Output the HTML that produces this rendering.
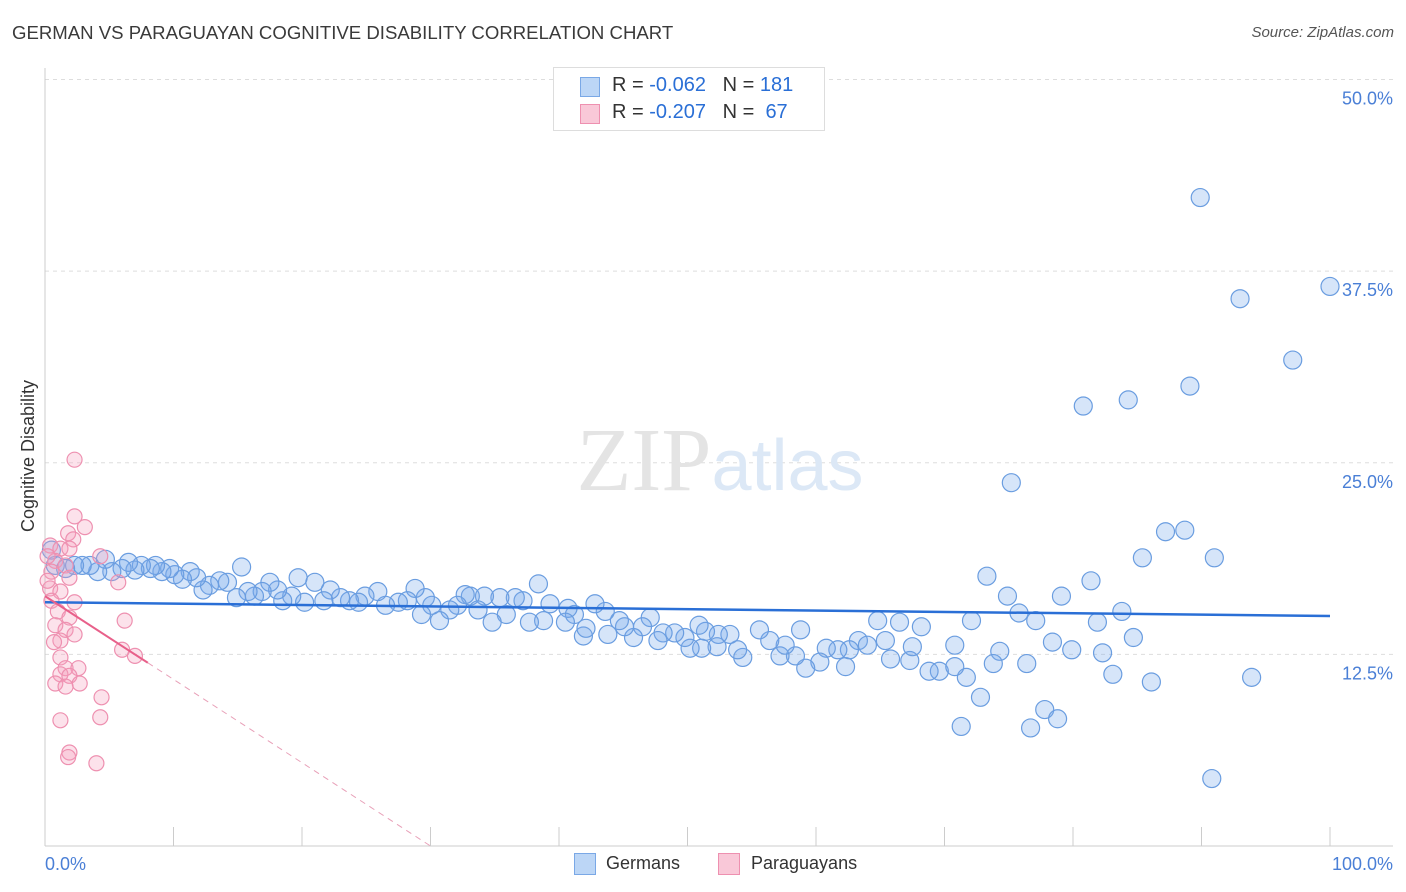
<!DOCTYPE html>
<html><head><meta charset="utf-8">
<style>
body{margin:0;background:#fff;font-family:"Liberation Sans",sans-serif;}
#wrap{position:relative;width:1406px;height:892px;overflow:hidden;}
.t{position:absolute;white-space:nowrap;}
</style></head>
<body>
<div id="wrap">
<div class="t" style="left:12px;top:22px;font-size:18.6px;color:#3a3a3a;">GERMAN VS PARAGUAYAN COGNITIVE DISABILITY CORRELATION CHART</div>
<div class="t" style="right:12px;top:24px;font-size:15px;color:#555;font-style:italic;">Source: ZipAtlas.com</div>
<svg id="svg" width="1406" height="892" style="position:absolute;left:0;top:0"></svg>
</div>
<script>
const yTicks=[12.5,25,37.5,50];
const yTickLabels=["12.5%","25.0%","37.5%","50.0%"];
const xLabels=["0.0%","100.0%"];
const germanX=[89.9,93.0,100,97.1,89.1,84.3,80.8,75.2,87.2,88.7,85.4,91.0,73.3,81.4,74.9,79.1,75.8,83.8,72.1,77.1,81.9,84.7,78.4,74.3,79.9,82.3,76.4,73.8,83.1,86.1,93.9,71.7,72.8,77.8,78.8,71.3,76.7,90.8,69.6,68.8,70.8,67.3,65.8,70.8,68.2,66.5,64.8,67.5,63.3,65.4,64.0,62.3,62.6,61.7,60.8,60.3,59.2,58.4,57.2,58.8,57.6,56.4,55.6,54.3,53.9,53.3,52.4,51.4,52.3,51.1,50.2,50.9,49.8,49.0,48.1,47.1,47.7,46.5,45.8,45.1,44.7,43.8,43.6,42.8,41.9,42.1,41.2,40.7,40.5,39.3,38.8,38.4,37.7,37.2,36.6,35.9,35.4,34.8,34.2,33.1,33.7,32.7,32.1,31.5,30.7,30.1,29.3,29.6,28.8,28.2,27.5,26.5,25.9,24.9,24.4,23.7,23.0,22.2,21.7,21.0,20.2,19.7,19.2,18.5,18.1,17.5,16.9,16.3,15.8,14.9,14.2,13.6,12.8,12.3,11.8,11.3,10.7,10.1,9.7,9.1,8.6,8.2,7.5,7.0,6.5,6.0,5.2,4.7,4.1,3.5,2.9,2.3,1.6,0.8,0.5,15.3];
const germanY=[42.3,35.7,36.5,31.7,30.0,29.1,28.7,23.7,20.5,20.6,18.8,18.8,17.6,17.3,16.3,16.3,15.2,15.3,14.7,14.7,14.6,13.6,13.3,12.7,12.8,12.6,11.9,11.9,11.2,10.7,11.0,11.0,9.7,8.9,8.3,7.8,7.7,4.4,11.4,11.4,11.7,12.1,12.2,13.1,14.3,14.6,14.7,13.0,13.4,13.4,13.1,11.7,12.8,12.8,12.9,12.0,11.6,12.4,12.4,14.1,13.1,13.4,14.1,12.3,12.8,13.8,13.8,14.0,13.0,12.9,12.9,14.4,13.6,13.9,13.9,14.9,13.4,14.3,13.6,14.3,14.7,13.8,15.3,15.8,13.7,14.2,15.1,15.5,14.6,15.8,14.7,17.1,14.6,16.0,16.2,15.1,16.2,14.6,16.3,16.3,15.4,16.4,15.7,15.4,14.7,15.7,15.1,16.2,16.8,16.0,15.9,15.7,16.6,16.3,15.9,16.0,16.2,16.7,16.0,17.2,15.9,17.5,16.3,16.0,16.7,17.2,16.6,16.3,16.6,16.2,17.2,17.3,17.0,16.7,17.5,17.9,17.4,17.7,18.1,17.9,18.3,18.1,18.3,18.0,18.5,18.1,17.9,18.7,17.9,18.3,18.3,18.3,18.1,18.3,19.3,18.2];
const paraX=[2.3,2.3,3.1,1.8,2.2,0.4,1.2,1.9,4.3,0.8,1.6,0.5,1.9,5.7,0.4,1.2,0.5,2.3,1.0,1.9,6.2,0.8,1.6,2.3,1.2,0.7,6.0,7.0,1.2,1.6,2.6,1.2,1.9,0.8,2.7,1.6,4.4,4.3,1.2,1.9,1.8,4.0,0.2,0.2];
const paraY=[25.2,21.5,20.8,20.4,20.0,19.6,19.4,19.4,18.9,18.6,18.3,17.9,17.5,17.2,16.8,16.6,16.0,15.9,15.3,14.9,14.7,14.4,14.1,13.8,13.4,13.3,12.8,12.4,12.3,11.6,11.6,11.2,11.1,10.6,10.6,10.4,9.7,8.4,8.2,6.1,5.8,5.4,18.9,17.3];
const germanTrend=[15.9,15.0];
const paraTrend=[16.3,0];

const X0=45,X1=1330,Y0=846,PPU=15.33;
const sx=v=>X0+(X1-X0)*v/100;
const sy=v=>Y0-v*PPU;
const svg=document.getElementById('svg');
const NS='http://www.w3.org/2000/svg';
function mk(tag,attrs,parent){const e=document.createElementNS(NS,tag);for(const k in attrs)e.setAttribute(k,attrs[k]);(parent||svg).appendChild(e);return e;}

yTicks.forEach((v,i)=>{
  const l=mk('line',{x1:45,x2:1393,y1:sy(v),y2:sy(v),stroke:'#ddd','stroke-dasharray':'4,4'});
  
  
  const t=mk('text',{x:1393,y:sy(v)+25,'text-anchor':'end','font-size':'18',fill:'#4a7fd6','font-family':'Liberation Sans'});
  t.textContent=yTickLabels[i];
  
  
});
const ax=mk('line',{x1:45,x2:45,y1:68,y2:846,stroke:'#ccc'});


const bx=mk('line',{x1:45,x2:1393,y1:846,y2:846,stroke:'#ccc'});


for(let i=0;i<=10;i++){
  const tk=mk('line',{x1:sx(i*10),x2:sx(i*10),y1:827,y2:846,stroke:'#ccc'});
  
  
}
[[0,'start',45],[1,'end',1393]].forEach(([i,a,x])=>{
  const t=mk('text',{x:x,y:870,'text-anchor':a,'font-size':'18',fill:'#4a7fd6','font-family':'Liberation Sans'});
  t.textContent=xLabels[i];
  
  
});
const yt=mk('text',{x:34,y:456,'text-anchor':'middle','font-size':'18',fill:'#333',transform:'rotate(-90 34 456)','font-family':'Liberation Sans'});
yt.textContent='Cognitive Disability';


const wm=mk('text',{x:720,y:490,'text-anchor':'middle','font-size':'90',fill:'#e4e4e4','font-family':'Liberation Serif'});
wm.innerHTML='ZIP<tspan fill="#dce8f6" font-family="Liberation Sans" font-size="72">atlas</tspan>';



germanX.forEach((x,i)=>{
  const c=mk('circle',{cx:sx(x),cy:sy(germanY[i]),r:9,fill:'rgba(120,170,235,0.3)',stroke:'#6a9de0','stroke-width':1.2});
  
  
});
paraX.forEach((x,i)=>{
  const c=mk('circle',{cx:sx(x),cy:sy(paraY[i]),r:7.5,fill:'rgba(245,160,190,0.3)',stroke:'#ee90b0','stroke-width':1.2});
  
  
});
const gt=mk('line',{x1:sx(0),x2:sx(100),y1:sy(germanTrend[0]),y2:sy(germanTrend[1]),stroke:'#2a6fd6','stroke-width':2.5});


const slope=(paraTrend[1]-paraTrend[0])/30;
const pt=mk('line',{x1:sx(0),x2:sx(8),y1:sy(paraTrend[0]),y2:sy(paraTrend[0]+slope*8),stroke:'#e8608a','stroke-width':2});


const pd=mk('line',{x1:sx(8),x2:sx(30),y1:sy(paraTrend[0]+slope*8),y2:sy(paraTrend[1]),stroke:'#e8a0b8','stroke-width':1,'stroke-dasharray':'6,5'});


</script>
<div class="t" style="left:553px;top:67px;width:270px;height:62px;border:1px solid #ddd;background:#fff;">
 <div style="position:absolute;left:26px;top:9px;width:18px;height:18px;background:#bcd6f6;border:1px solid #7aa8e6;"></div>
 <div class="t" style="left:58px;top:6px;font-size:20px;color:#333;">R = <span style="color:#2a6fd6">-0.062</span>&nbsp;&nbsp;&nbsp;N = <span style="color:#2a6fd6">181</span></div>
 <div style="position:absolute;left:26px;top:36px;width:18px;height:18px;background:#f9c8d8;border:1px solid #ee90b0;"></div>
 <div class="t" style="left:58px;top:33px;font-size:20px;color:#333;">R = <span style="color:#2a6fd6">-0.207</span>&nbsp;&nbsp;&nbsp;N = &nbsp;<span style="color:#2a6fd6">67</span></div>
</div>
<div class="t" style="left:574px;top:853px;width:20px;height:20px;background:#bcd6f6;border:1px solid #7aa8e6;"></div>
<div class="t" style="left:606px;top:853px;font-size:18px;color:#333;">Germans</div>
<div class="t" style="left:718px;top:853px;width:20px;height:20px;background:#f9c8d8;border:1px solid #ee90b0;"></div>
<div class="t" style="left:751px;top:853px;font-size:18px;color:#333;">Paraguayans</div>
</body></html>
